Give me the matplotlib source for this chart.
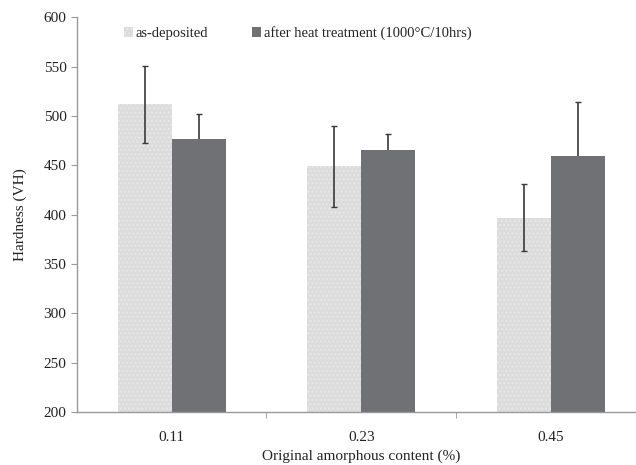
import numpy as np
import matplotlib
matplotlib.use("Agg")
import matplotlib.pyplot as plt

# values
categories = ["0.11", "0.23", "0.45"]
as_deposited = [512, 449, 397]
as_deposited_err = [39, 41, 34]
heat_treated = [477, 465, 459]
heat_treated_err = [25, 17, 55]

plt.rcParams["font.family"] = ["Liberation Serif", "DejaVu Serif"]

fig = plt.figure(figsize=(6.36, 4.65), dpi=100)
ax = fig.add_axes([0.121, 0.114, 0.894, 0.849])

x = np.arange(len(categories))
w = 0.285

ax.bar(x - w / 2, as_deposited, w, color="#dcdcdc", hatch="....",
       edgecolor="#e8e8e8", linewidth=0, label="as-deposited", zorder=2)
ax.bar(x + w / 2, heat_treated, w, color="#707175", linewidth=0,
       label="after heat treatment (1000°C/10hrs)", zorder=2)

ax.errorbar(x - w / 2, as_deposited, yerr=as_deposited_err, fmt="none",
            ecolor="#3a3a3a", elinewidth=1.2, capsize=2.5, capthick=1, zorder=3)
# dark bars sit on top of their own error bars, so only the upper half shows
ax.errorbar(x + w / 2, heat_treated, yerr=heat_treated_err, fmt="none",
            ecolor="#3a3a3a", elinewidth=1.2, capsize=2.5, capthick=1, zorder=1.5)

ax.set_ylim(200, 600)
ax.set_xlim(-0.5, 2.5)
ax.set_yticks(np.arange(200, 601, 50))
ax.set_xticks(x)
ax.set_xticklabels(categories)
ax.set_xticks([0.5, 1.5], minor=True)
ax.tick_params(axis="x", which="major", length=0, pad=14, labelsize=11, colors="#222222")
ax.tick_params(axis="x", which="minor", length=4, color="#999999")
ax.tick_params(axis="y", length=4, color="#999999", labelsize=11, colors="#222222")

for s in ["top", "right"]:
    ax.spines[s].set_visible(False)
for s in ["left", "bottom"]:
    ax.spines[s].set_color("#999999")
    ax.spines[s].set_linewidth(1)

ax.set_ylabel("Hardness (VH)", fontsize=11, color="#222222", labelpad=12)
ax.set_xlabel("Original amorphous content (%)", fontsize=11, color="#222222", labelpad=4)

leg = ax.legend(loc="upper left", bbox_to_anchor=(0.06, 1.01), ncol=2, frameon=False,
                handlelength=0.6, handleheight=0.6, handletextpad=0.2,
                columnspacing=3.0, fontsize=10.5)
for t in leg.get_texts():
    t.set_color("#222222")

fig.savefig("out.png", dpi=100)
